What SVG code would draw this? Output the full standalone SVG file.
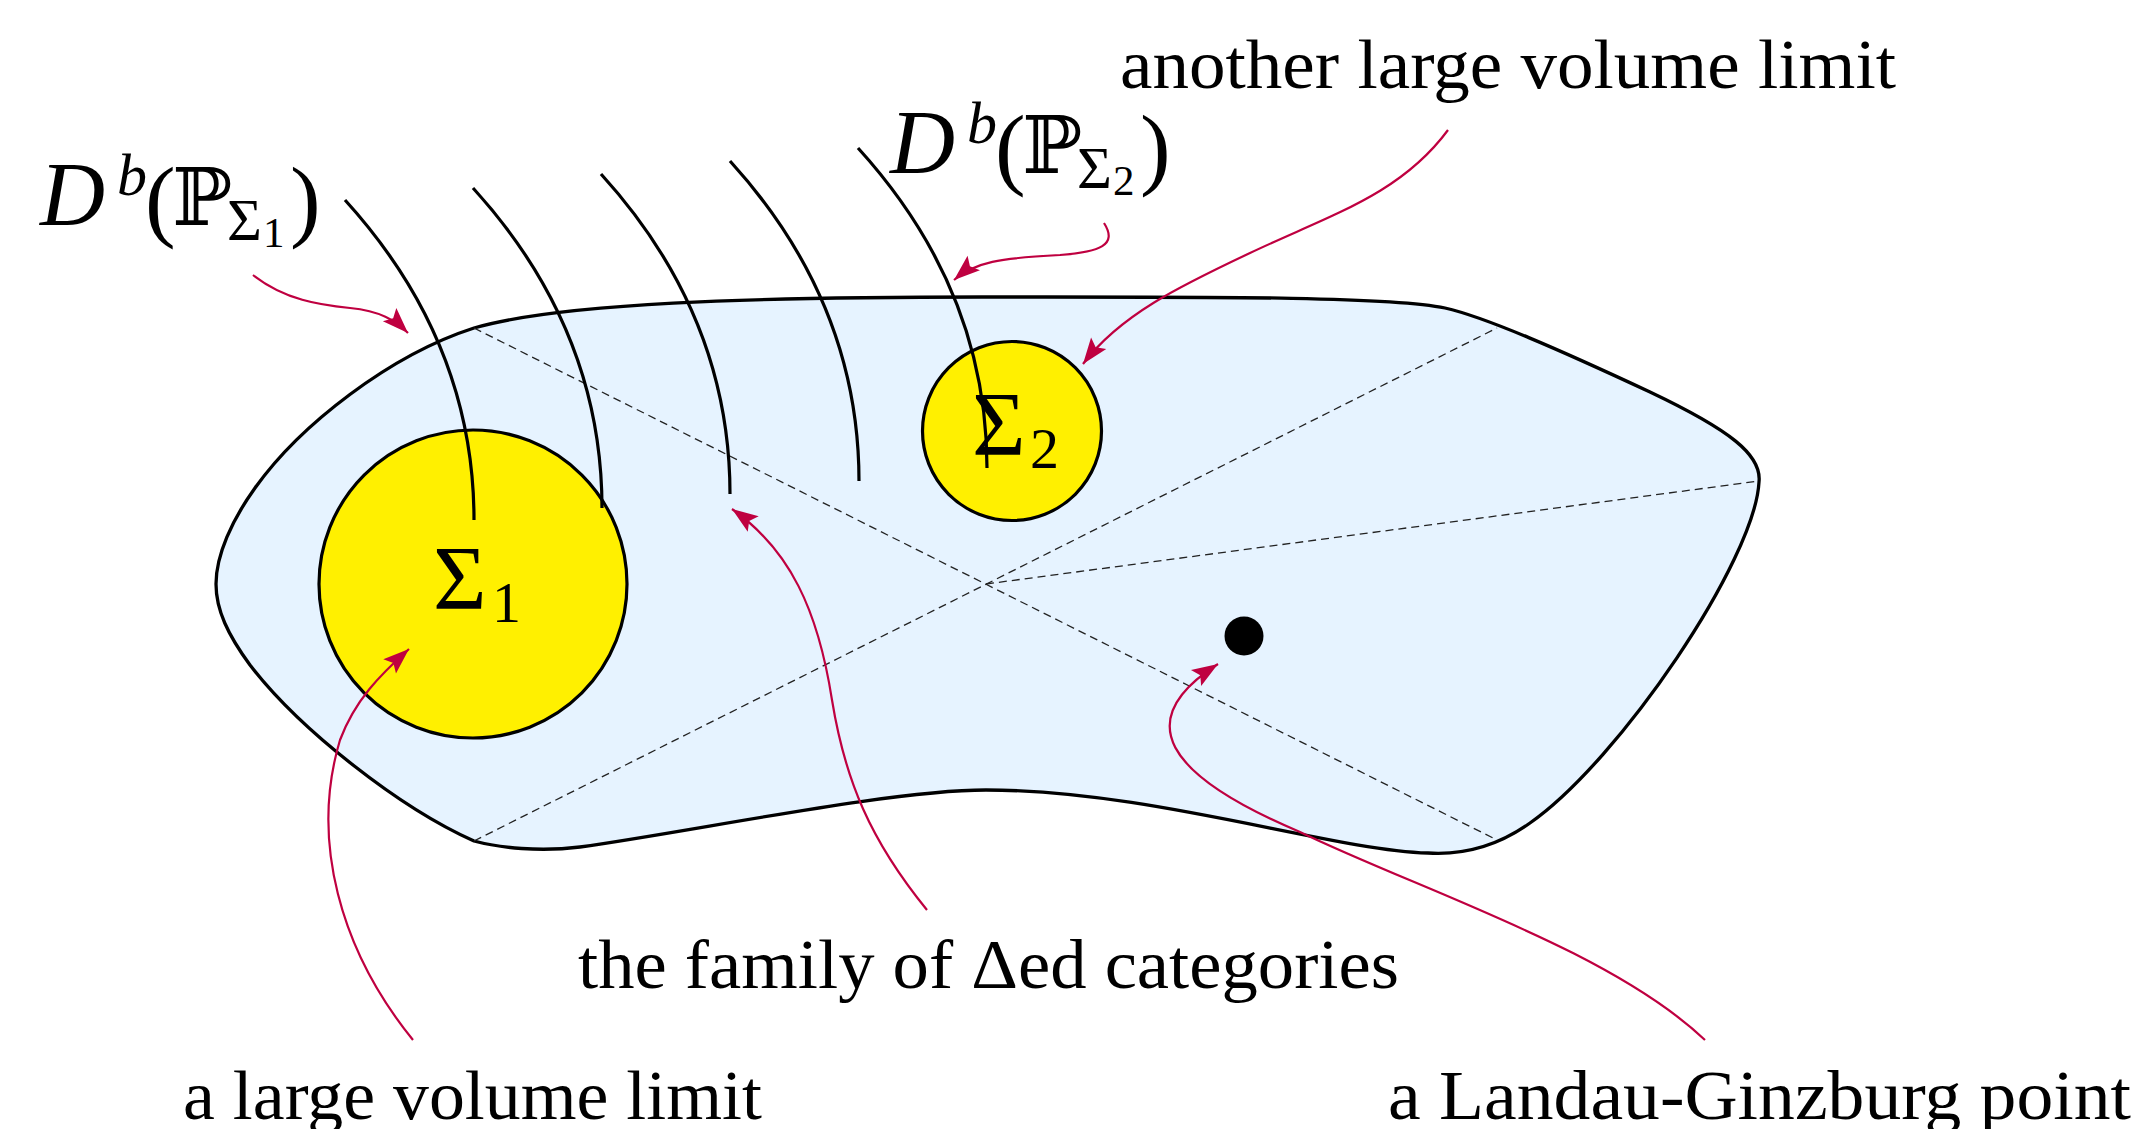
<svg xmlns="http://www.w3.org/2000/svg" xmlns:xlink="http://www.w3.org/1999/xlink" width="2138" height="1129" viewBox="0 0 2138 1129">
<style>
.lbl{font-family:"Liberation Serif","DejaVu Serif",serif;font-size:70px;fill:#000}
.m{font-family:"Liberation Serif","DejaVu Serif",serif;fill:#000}
.bb{font-family:"DejaVu Serif","DejaVu Sans",serif;fill:#000}
.dash{fill:none;stroke:#222;stroke-width:1.3;stroke-dasharray:8 5}
.strand{fill:none;stroke:#000;stroke-width:3.2}
.conn{fill:none;stroke:#BF0040;stroke-width:2.2;marker-end:url(#ah)}
</style>
<defs>
<marker id="ah" markerUnits="userSpaceOnUse" viewBox="-28 -11 30 22" markerWidth="30" markerHeight="22" refX="0" refY="0" orient="auto">
<path d="M0,0 L-26,-9.5 L-21,0 L-26,9.5 Z" fill="#BF0040"/>
</marker>
<path id="strandShape" d="M0,0 Q129,142 129,320"/>
</defs>

<g id="region">
<path d="M474,328 C560,303 750,297 982,297 C1200,297 1390,296 1445,308 C1485,317 1560,350 1650,392 C1730,430 1762,455 1759,482 C1755,560 1620,760 1530,823 C1495,848 1460,855 1428,853 C1330,850 1150,790 986,790 C890,790 700,830 580,847 C540,852 500,848 474,841 C400,808 300,730 250,665 C228,635 216,610 216,584 C216,555 232,520 255,488 C300,425 390,355 474,328 Z" fill="#E6F3FF" stroke="#000" stroke-width="3.3"/>
</g>

<g id="walls">
<line class="dash" x1="474" y1="328" x2="1497" y2="840"/>
<line class="dash" x1="474" y1="841" x2="1497" y2="328"/>
<line class="dash" x1="986" y1="584" x2="1759" y2="481"/>
</g>

<g id="sigma1">
<circle cx="473" cy="584" r="154" fill="#FFF000" stroke="#000" stroke-width="3.2"/>
<text class="m" x="433" y="609" font-size="92">Σ</text>
<text class="m" x="492" y="622" font-size="58">1</text>
</g>

<g id="sigma2">
<circle cx="1012" cy="431" r="89.5" fill="#FFF000" stroke="#000" stroke-width="3.2"/>
<text class="m" x="972" y="455" font-size="92">Σ</text>
<text class="m" x="1030" y="468" font-size="58">2</text>
</g>

<g id="lg-point">
<circle cx="1244" cy="636" r="19.5" fill="#000"/>
</g>

<g id="strands">
<use xlink:href="#strandShape" class="strand" transform="translate(345,200)"/>
<use xlink:href="#strandShape" class="strand" transform="translate(473,188)"/>
<use xlink:href="#strandShape" class="strand" transform="translate(601,174)"/>
<use xlink:href="#strandShape" class="strand" transform="translate(730,161)"/>
<use xlink:href="#strandShape" class="strand" transform="translate(858,148)"/>
</g>

<g id="connectors">
<path class="conn" d="M253,275 C285,300 320,305 350,308 C380,311 395,320 408,333"/>
<path class="conn" d="M1104,223 C1118,245 1100,252 1060,255 C1000,258 975,262 954,280"/>
<path class="conn" d="M1448,130 C1400,195 1330,215 1250,253 C1180,286 1120,315 1083,364"/>
<path class="conn" d="M413,1040 C340,950 310,840 340,740 C355,700 380,675 409,649"/>
<path class="conn" d="M927,910 C870,840 845,780 832,700 C818,610 790,550 732,509"/>
<path class="conn" d="M1705,1040 C1610,950 1420,890 1300,832 C1165,775 1130,720 1218,664"/>
</g>

<g id="label-db1">
<text class="m" x="40" y="225" font-size="90" font-style="italic">D</text>
<text class="m" x="117" y="195" font-size="60" font-style="italic">b</text>
<text class="m" x="145" y="230" font-size="92">(</text>
<text class="bb" x="172" y="225" font-size="80">ℙ</text>
<text class="m" x="227" y="240" font-size="60">Σ</text>
<text class="m" x="263" y="247" font-size="43">1</text>
<text class="m" x="290" y="230" font-size="92">)</text>
</g>

<g id="label-db2">
<text class="m" x="890" y="173" font-size="90" font-style="italic">D</text>
<text class="m" x="967" y="143" font-size="60" font-style="italic">b</text>
<text class="m" x="995" y="178" font-size="92">(</text>
<text class="bb" x="1022" y="173" font-size="80">ℙ</text>
<text class="m" x="1077" y="188" font-size="60">Σ</text>
<text class="m" x="1113" y="195" font-size="43">2</text>
<text class="m" x="1140" y="178" font-size="92">)</text>
</g>

<g id="labels">
<text class="lbl" x="1120" y="88" textLength="776" lengthAdjust="spacingAndGlyphs">another large volume limit</text>
<text class="lbl" x="578" y="988" textLength="821" lengthAdjust="spacingAndGlyphs">the family of Δed categories</text>
<text class="lbl" x="183" y="1119" textLength="579" lengthAdjust="spacingAndGlyphs">a large volume limit</text>
<text class="lbl" x="1388" y="1119" textLength="743" lengthAdjust="spacingAndGlyphs">a Landau-Ginzburg point</text>
</g>
</svg>
